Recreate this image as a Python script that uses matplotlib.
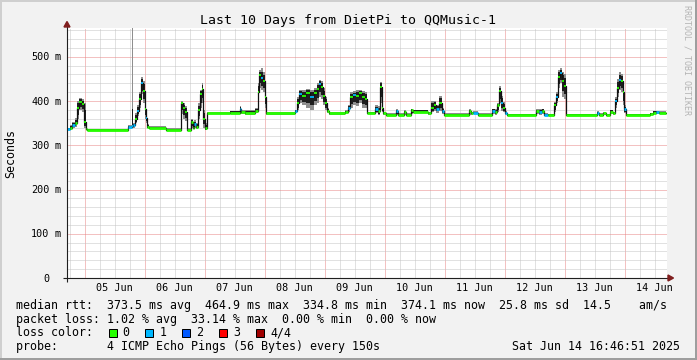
import matplotlib
matplotlib.use('Agg')
import matplotlib.pyplot as plt
import matplotlib.dates as mdates
import matplotlib.transforms as mtransforms
from matplotlib.patches import Rectangle, Polygon
from matplotlib.ticker import MultipleLocator
import numpy as np
from datetime import datetime, timedelta

# ---------------- data ----------------
start_time = datetime(2025, 6, 4, 17, 0)
span_hours = 240
end_hour = 239.6  # last sample end (hours after start)

# sample-segment start times, hours after start_time
hours = [0.0, 1.2, 2.0, 3.2, 4.0, 4.8, 6.0, 6.8, 7.6, 8.0,
         24.4, 26.0, 26.4, 27.2, 28.0, 28.8, 29.6, 30.4, 31.2, 31.6,
         32.0, 32.8, 39.6, 45.6, 46.4, 47.2, 48.0, 49.6, 50.4, 50.8,
         51.6, 52.4, 53.2, 54.0, 54.4, 55.2, 56.0, 65.2, 69.2, 69.6,
         71.2, 75.2, 76.4, 76.8, 77.6, 78.4, 79.2, 79.6, 91.2, 92.0,
         92.8, 94.0, 95.6, 97.2, 98.8, 100.0, 100.8, 101.6, 102.4, 103.2,
         104.0, 104.8, 111.2, 112.4, 113.2, 114.4, 115.6, 116.8, 118.0, 119.2,
         120.0, 123.2, 124.4, 125.2, 126.0, 126.4, 127.6, 131.6, 132.4, 134.8,
         135.6, 137.6, 138.4, 144.4, 145.6, 146.8, 147.6, 148.8, 150.0, 150.8,
         160.8, 161.6, 162.4, 164.4, 170.0, 171.2, 172.0, 172.8, 173.6, 174.4,
         175.2, 176.0, 187.6, 188.8, 190.0, 190.8, 192.4, 194.8, 195.6, 196.4,
         197.2, 198.0, 198.8, 199.6, 212.0, 212.8, 214.4, 215.6, 217.2, 218.4,
         219.2, 220.0, 220.8, 221.6, 222.4, 222.8, 223.6, 233.2, 234.4, 235.6,
         236.8]

median_ms = [337, 340, 346, 350, 385, 397, 393, 352, 337, 335,
             342, 344, 346, 360, 378, 405, 440, 422, 382, 362,
             342, 340, 335, 395, 385, 375, 335, 352, 340, 349,
             342, 380, 415, 428, 360, 338, 372, 374, 383, 375,
             373, 378, 420, 458, 452, 445, 410, 372, 377, 395,
             416, 412, 418, 410, 418, 428, 438, 432, 412, 395,
             378, 372, 375, 384, 410, 414, 412, 418, 410, 405,
             373, 382, 378, 432, 385, 372, 369, 378, 369, 376,
             369, 380, 376, 372, 385, 392, 383, 396, 378, 369,
             378, 372, 374, 369, 378, 376, 390, 422, 395, 385,
             373, 368, 378, 376, 378, 369, 368, 390, 410, 455,
             463, 445, 435, 368, 373, 369, 372, 368, 376, 373,
             400, 430, 448, 445, 420, 382, 368, 371, 374, 375,
             374]

smoke_lo_ms = [334, 336, 340, 342, 360, 380, 375, 340, 334, 333,
               338, 338, 340, 350, 365, 385, 415, 395, 360, 350,
               338, 337, 333, 370, 360, 355, 333, 340, 336, 340,
               337, 360, 385, 395, 340, 334, 370, 371, 375, 371,
               369, 372, 390, 430, 425, 420, 385, 369, 373, 380,
               395, 390, 385, 380, 390, 395, 410, 405, 390, 380,
               373, 369, 372, 376, 385, 390, 388, 395, 385, 384,
               370, 372, 368, 395, 375, 369, 367, 368, 367, 369,
               367, 370, 372, 369, 375, 378, 374, 378, 370, 367,
               369, 369, 370, 367, 370, 368, 375, 395, 378, 375,
               369, 366, 370, 368, 370, 366, 366, 375, 395, 430,
               440, 410, 405, 366, 368, 366, 368, 366, 370, 369,
               385, 410, 425, 420, 390, 372, 366, 368, 370, 371,
               371]

smoke_hi_ms = [340, 345, 352, 362, 400, 407, 404, 395, 341, 337,
               346, 600, 350, 372, 392, 420, 455, 446, 410, 376,
               348, 343, 338, 400, 395, 388, 339, 360, 346, 356,
               350, 395, 425, 440, 380, 350, 375, 378, 388, 379,
               379, 385, 440, 470, 474, 465, 440, 375, 380, 410,
               425, 425, 428, 425, 430, 440, 448, 445, 430, 410,
               385, 375, 380, 392, 420, 422, 424, 426, 422, 420,
               376, 390, 388, 444, 400, 375, 372, 381, 372, 379,
               372, 383, 380, 376, 400, 400, 392, 412, 385, 372,
               382, 376, 377, 372, 383, 382, 395, 433, 412, 398,
               378, 371, 382, 382, 383, 372, 371, 398, 420, 470,
               474, 465, 460, 371, 377, 372, 375, 371, 380, 376,
               408, 450, 466, 462, 445, 390, 371, 374, 378, 378,
               377]

loss_count = [1, 0, 1, 0, 0, 0, 0, 0, 0, 0,
              1, 1, 1, 0, 1, 0, 1, 0, 0, 1,
              0, 0, 0, 0, 0, 0, 0, 0, 0, 1,
              0, 0, 0, 0, 0, 0, 0, 0, 1, 0,
              0, 0, 0, 0, 1, 0, 0, 0, 1, 0,
              1, 0, 0, 1, 0, 0, 1, 0, 0, 0,
              0, 0, 0, 1, 0, 1, 0, 0, 0, 0,
              0, 1, 0, 0, 0, 0, 0, 1, 0, 0,
              0, 0, 0, 0, 0, 0, 1, 0, 1, 0,
              0, 0, 1, 0, 1, 0, 0, 0, 1, 0,
              1, 0, 0, 1, 0, 1, 0, 0, 1, 0,
              1, 0, 0, 0, 1, 0, 0, 0, 0, 0,
              1, 0, 1, 0, 0, 1, 0, 0, 0, 1,
              0]

loss_labels = ['0', '1', '2', '3', '4/4']
loss_colors = ['#26ff00', '#00b8ff', '#0059ff', '#ff0000', '#a00000']

y_tick_values = [0, 100, 200, 300, 400, 500]
day_labels = ['05 Jun', '06 Jun', '07 Jun', '08 Jun', '09 Jun',
              '10 Jun', '11 Jun', '12 Jun', '13 Jun', '14 Jun']

title = 'Last 10 Days from DietPi to QQMusic-1'
y_label = 'Seconds'
stats_rtt = 'median rtt:  373.5 ms avg  464.9 ms max  334.8 ms min  374.1 ms now  25.8 ms sd  14.5    am/s'
stats_loss = 'packet loss: 1.02 % avg  33.14 % max  0.00 % min  0.00 % now'
probe_text = 'probe:       4 ICMP Echo Pings (56 Bytes) every 150s'
stamp_text = 'Sat Jun 14 16:46:51 2025'
watermark = 'RRDTOOL / TOBI OETIKER'

# ---------------- layout ----------------
W, H, DPI = 697, 360, 100
MONO = 'DejaVu Sans Mono'
BG = '#f2f2f2'


def fx(px):
    return px / W


def fy(py):
    return 1 - py / H


fig = plt.figure(figsize=(W / DPI, H / DPI), dpi=DPI, facecolor=BG)
ax = fig.add_axes([fx(67), fy(278), 600 / W, 250 / H])
ax.set_facecolor('white')
for s in ax.spines.values():
    s.set_visible(False)

t_edges = [start_time + timedelta(hours=h) for h in hours] + \
          [start_time + timedelta(hours=end_hour)]
tn = mdates.date2num(t_edges)
med = np.array(median_ms + [median_ms[-1]], dtype=float)
lo = np.array(smoke_lo_ms + [smoke_lo_ms[-1]], dtype=float)
hi = np.array(smoke_hi_ms + [smoke_hi_ms[-1]], dtype=float)

# smoke
ax.fill_between(tn, lo, hi, step='post', color='#8e8e8e', linewidth=0, zorder=2)
core_lo = med - 0.65 * np.minimum(med - lo, 60)
core_hi = med + 0.65 * np.minimum(hi - med, 60)
ax.fill_between(tn, core_lo, core_hi, step='post', color='#1e1e1e', linewidth=0, zorder=3)
# median connectors
ax.step(tn, med, where='post', color='#111111', lw=0.9, zorder=4)
# median colored by loss: thinner where the smoke is wide
spread = np.array(smoke_hi_ms) - np.array(smoke_lo_ms)
seg_colors = [loss_colors[c] for c in loss_count]
seg_widths = np.where(spread > 20, 1.3, 2.0)
ax.hlines(median_ms, tn[:-1], tn[1:], colors=seg_colors, linewidth=seg_widths, zorder=5)

ax.set_xlim(mdates.date2num(start_time),
            mdates.date2num(start_time + timedelta(hours=span_hours)))
ax.set_ylim(0, 565)

ax.xaxis.set_major_locator(mdates.DayLocator())
ax.xaxis.set_minor_locator(mdates.HourLocator(byhour=[6, 12, 18]))
ax.yaxis.set_major_locator(MultipleLocator(100))
ax.yaxis.set_minor_locator(MultipleLocator(20))
ax.grid(True, which='minor', color='#c4c4c4', linestyle=(0, (1, 1)), linewidth=0.72)
ax.grid(True, which='major', color='#e98484', linestyle=(0, (1, 1)), linewidth=0.72)
ax.set_axisbelow(True)
ax.tick_params(which='both', length=0, labelbottom=False, labelleft=False)

# axes lines and arrows
AX_COL = '#1f1f1f'
ARROW = '#801f1f'
ax.plot([-4 / 600, 670 / 600 - 67 / 600], [0, 0], transform=ax.transAxes,
        color=AX_COL, lw=0.8, clip_on=False, zorder=6, solid_capstyle='butt')
ax.plot([0, 0], [-4 / 250, (278 - 25) / 250], transform=ax.transAxes,
        color=AX_COL, lw=0.8, clip_on=False, zorder=6, solid_capstyle='butt')
ax.add_patch(Polygon([[(668 - 67) / 600, 3 / 250], [(673.5 - 67) / 600, 0],
                      [(668 - 67) / 600, -3 / 250]], closed=True,
                     transform=ax.transAxes, color=ARROW, clip_on=False, zorder=7))
ax.add_patch(Polygon([[-3 / 600, (278 - 27) / 250], [0, (278 - 21.5) / 250],
                      [3 / 600, (278 - 27) / 250]], closed=True,
                     transform=ax.transAxes, color=ARROW, clip_on=False, zorder=7))

# y tick labels
ytrans = mtransforms.offset_copy(
    mtransforms.blended_transform_factory(fig.transFigure, ax.transData),
    fig=fig, y=-3.6, units='dots')
for v in y_tick_values:
    ax.text(fx(49.5), v, str(v), transform=ytrans, ha='right', va='baseline',
            fontsize=7.3, family=MONO, color='black')
    if v:
        ax.text(fx(55), v, 'm', transform=ytrans, ha='left', va='baseline',
                fontsize=7.3, family=MONO, color='black')

# x tick labels (centred on noon)
xtrans = mtransforms.blended_transform_factory(ax.transData, fig.transFigure)
first_day = datetime(2025, 6, 5)
for i, lab in enumerate(day_labels):
    xn = mdates.date2num(first_day + timedelta(days=i, hours=12))
    ax.text(xn, fy(291), lab, transform=xtrans, ha='center', va='baseline',
            fontsize=7.3, family=MONO, color='black')

# title, y label, watermark
fig.text(fx(347.5), fy(24), title, ha='center', va='baseline', fontsize=9.5, family=MONO)
fig.text(fx(11), fy(153), y_label, rotation=90, ha='center', va='center',
         fontsize=8.4, family=MONO)
fig.text(fx(687.5), fy(5), watermark, rotation=270, ha='center', va='top',
         fontsize=6, family=MONO, color='#b4b4b4')

# legend / stats
LEG_FS = 8.4
fig.text(fx(16), fy(309), stats_rtt, ha='left', va='baseline', fontsize=LEG_FS, family=MONO)
fig.text(fx(16), fy(322.5), stats_loss, ha='left', va='baseline', fontsize=LEG_FS, family=MONO)
fig.text(fx(16), fy(336.5), 'loss color:', ha='left', va='baseline', fontsize=LEG_FS, family=MONO)
for i, (lab, col) in enumerate(zip(loss_labels, loss_colors)):
    bx = 108.5 + i * 36.9
    fig.add_artist(Rectangle((fx(bx), fy(336.5)), 8 / W, 8 / H, transform=fig.transFigure,
                             facecolor=col, edgecolor='black', linewidth=0.72))
    fig.text(fx(bx + 14.2), fy(336.5), lab, ha='left', va='baseline',
             fontsize=LEG_FS, family=MONO)
fig.text(fx(16), fy(350), probe_text, ha='left', va='baseline', fontsize=LEG_FS, family=MONO)
fig.text(fx(680), fy(350), stamp_text, ha='right', va='baseline', fontsize=LEG_FS, family=MONO)

# 3D border
SHADE_A, SHADE_B = '#cfcfcf', '#9e9e9e'
fig.add_artist(Rectangle((0, fy(2)), 1, 2 / H, transform=fig.transFigure, color=SHADE_A, lw=0))
fig.add_artist(Rectangle((0, 0), 2 / W, 1, transform=fig.transFigure, color=SHADE_A, lw=0))
fig.add_artist(Rectangle((0, 0), 1, 2 / H, transform=fig.transFigure, color=SHADE_B, lw=0))
fig.add_artist(Rectangle((fx(695), 0), 2 / W, 1, transform=fig.transFigure, color=SHADE_B, lw=0))

fig.savefig('out.png', dpi=DPI, facecolor=BG)
